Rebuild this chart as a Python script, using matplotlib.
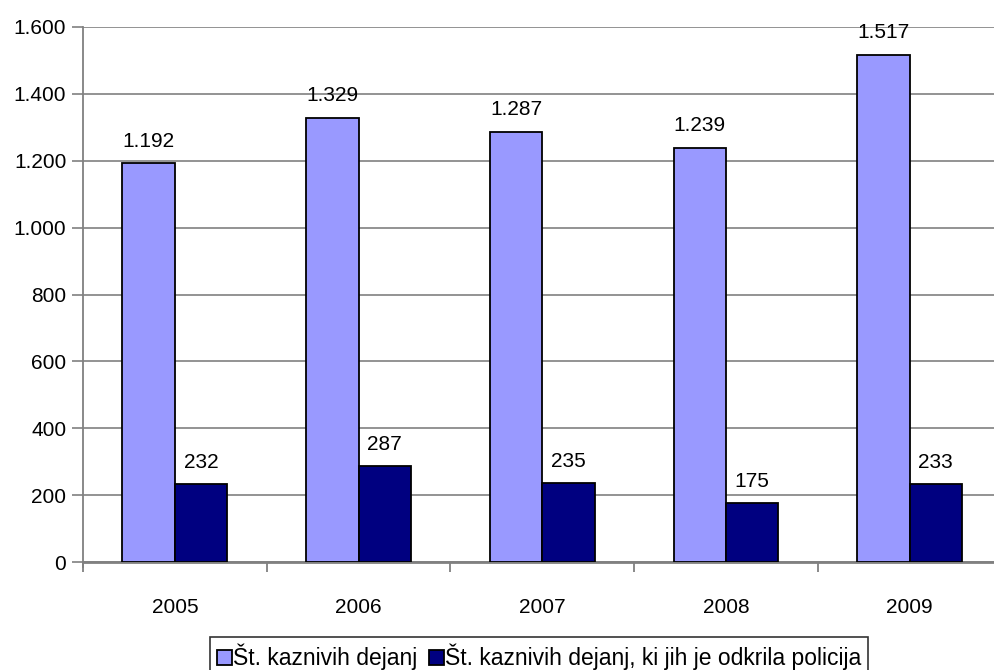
import matplotlib
matplotlib.use("Agg")
import matplotlib.pyplot as plt
from matplotlib.ticker import FuncFormatter, FixedLocator
import numpy as np

plt.rcParams['font.family'] = ['Liberation Sans', 'DejaVu Sans']

years = ['2005', '2006', '2007', '2008', '2009']
all_offences = [1192, 1329, 1287, 1239, 1517]
police_detected = [232, 287, 235, 175, 233]
series_names = ['Št. kaznivih dejanj', 'Št. kaznivih dejanj, ki jih je odkrila policija']

def fmt(v):
    return f"{int(v):,}".replace(",", ".")

fig = plt.figure(figsize=(9.95, 6.7), dpi=100)
ax = fig.add_axes([83/995, 108/670, 918.5/995, 535/670])

x = np.arange(len(years))
bw = 0.285
b1 = ax.bar(x - bw/2, all_offences, bw, color='#9999FF', edgecolor='black', linewidth=1.3,
            label=series_names[0], zorder=3)
b2 = ax.bar(x + bw/2, police_detected, bw, color='#000080', edgecolor='black', linewidth=1.3,
            label=series_names[1], zorder=3)

for rect, v in zip(list(b1) + list(b2), all_offences + police_detected):
    ax.annotate(fmt(v), (rect.get_x() + rect.get_width()/2, v), xytext=(0, 9),
                textcoords='offset points', ha='center', va='bottom', fontsize=15)

ax.set_xlim(-0.5, len(years) - 0.5)
ax.set_ylim(0, 1600)
ax.set_yticks(np.arange(0, 1601, 200))
ax.yaxis.set_major_formatter(FuncFormatter(lambda v, p: fmt(v)))
ax.yaxis.grid(True, color='#808080', linewidth=1.2, zorder=0)
ax.set_axisbelow(True)

ax.set_xticks(x)
ax.set_xticklabels(years)
ax.xaxis.set_minor_locator(FixedLocator(np.arange(-0.5, len(years), 1.0)))
ax.tick_params(axis='x', which='major', length=0, pad=26, labelsize=15)
ax.tick_params(axis='x', which='minor', length=7, width=1.3, color='#808080', direction='out')
ax.tick_params(axis='y', length=8, width=1.2, color='#808080', labelsize=15, pad=4)

for s in ['top', 'right']:
    ax.spines[s].set_visible(False)
ax.spines['left'].set_color('#808080')
ax.spines['left'].set_linewidth(1.3)
ax.spines['bottom'].set_color('#808080')
ax.spines['bottom'].set_linewidth(2)
ax.spines['left'].set_bounds(-15, 1600)

leg = fig.legend(handles=[b1, b2], labels=series_names, loc='upper left',
                 bbox_to_anchor=(210/995, 1 - 637/670), ncol=2, fontsize=16.5, frameon=True,
                 fancybox=False, edgecolor='black', handlelength=0.65, handleheight=0.65,
                 handletextpad=0.05, columnspacing=0.5, borderpad=0.3, borderaxespad=0.0)
leg.get_frame().set_linewidth(1.2)

fig.savefig('out.png', dpi=100)
